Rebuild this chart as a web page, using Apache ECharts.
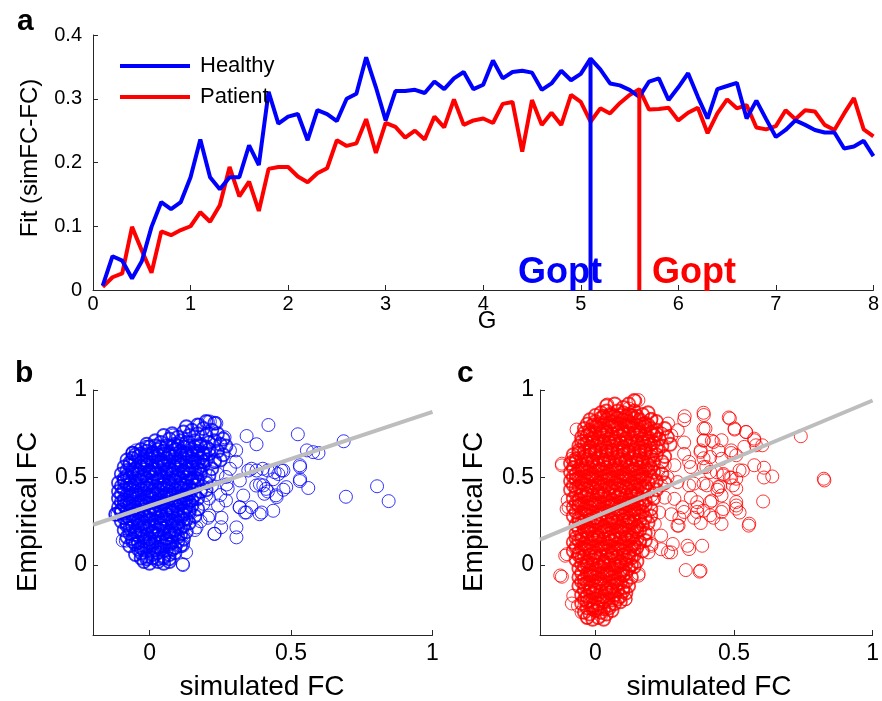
<!DOCTYPE html>
<html>
<head>
<meta charset="utf-8">
<title>Fit vs G and simulated vs empirical FC</title>
<script src="https://cdn.jsdelivr.net/npm/echarts@6.0.0/dist/echarts.min.js"></script>
<style>
  html, body { margin: 0; padding: 0; background: #fff; }
  #chart { width: 882px; height: 701px; }
</style>
</head>
<body>
<div id="chart"></div>
<script>
// coupling strength G
const gValues = [0.1,0.2,0.3,0.4,0.5,0.6,0.7,0.8,0.9,1.0,
  1.1,1.2,1.3,1.4,1.5,1.6,1.7,1.8,1.9,2.0,
  2.1,2.2,2.3,2.4,2.5,2.6,2.7,2.8,2.9,3.0,
  3.1,3.2,3.3,3.4,3.5,3.6,3.7,3.8,3.9,4.0,
  4.1,4.2,4.3,4.4,4.5,4.6,4.7,4.8,4.9,5.0,
  5.1,5.2,5.3,5.4,5.5,5.6,5.7,5.8,5.9,6.0,
  6.1,6.2,6.3,6.4,6.5,6.6,6.7,6.8,6.9,7.0,
  7.1,7.2,7.3,7.4,7.5,7.6,7.7,7.8,7.9,8.0];

// fit (simFC-FC) for each G
const fitHealthy = [0.007,0.053,0.046,0.018,0.045,0.099,0.138,0.127,0.138,0.177,
  0.236,0.177,0.158,0.177,0.177,0.227,0.196,0.311,0.261,0.272,
  0.276,0.235,0.282,0.276,0.265,0.300,0.308,0.365,0.318,0.266,
  0.312,0.312,0.314,0.309,0.327,0.315,0.332,0.342,0.315,0.322,
  0.360,0.332,0.342,0.344,0.341,0.314,0.324,0.344,0.329,0.339,
  0.363,0.346,0.324,0.321,0.314,0.303,0.327,0.332,0.298,0.318,
  0.340,0.303,0.269,0.315,0.320,0.325,0.269,0.297,0.268,0.240,
  0.251,0.266,0.259,0.251,0.247,0.247,0.222,0.225,0.234,0.210];

const fitPatient = [0.005,0.020,0.026,0.099,0.062,0.027,0.092,0.086,0.094,0.100,
  0.122,0.107,0.133,0.193,0.147,0.170,0.124,0.190,0.193,0.193,
  0.178,0.169,0.183,0.191,0.235,0.226,0.230,0.268,0.215,0.262,
  0.256,0.239,0.250,0.236,0.272,0.255,0.299,0.259,0.266,0.269,
  0.262,0.292,0.295,0.217,0.298,0.259,0.278,0.259,0.306,0.295,
  0.264,0.285,0.277,0.293,0.306,0.315,0.283,0.284,0.286,0.266,
  0.278,0.286,0.246,0.277,0.299,0.285,0.290,0.255,0.252,0.257,
  0.282,0.268,0.282,0.280,0.259,0.251,0.277,0.301,0.252,0.241];

// optimal G for each group and the fit there
const goptHealthy = [5.1, 0.363];
const goptPatient = [5.6, 0.315];

// [simulated FC, empirical FC] pairs, healthy: dense centre of the cloud
const fcHealthyCore = [
  [0.13,0.79],[0.17,0.80],[0.2,0.82],[0.23,0.81],[0.15,0.77],[0.19,0.78],[0.22,0.77],
  [0.05,0.74],[0.08,0.75],[0.1,0.73],[0.12,0.76],[0.14,0.74],[0.17,0.75],[0.2,0.74],[0.24,0.75],[0.26,0.72],
  [-0.01,0.69],[0.02,0.71],[0.04,0.7],[0.07,0.72],[0.09,0.69],[0.11,0.71],[0.13,0.7],[0.16,0.71],[0.18,0.69],[0.21,0.7],[0.23,0.71],[0.25,0.69],[0.27,0.68],
  [-0.06,0.64],[-0.03,0.66],[-0.01,0.65],[0.01,0.64],[0.03,0.66],[0.05,0.65],[0.07,0.64],[0.09,0.66],[0.11,0.65],[0.13,0.64],[0.15,0.66],[0.17,0.65],[0.19,0.64],[0.21,0.66],[0.24,0.65],[0.26,0.63],
  [-0.08,0.6],[-0.06,0.61],[-0.04,0.62],[-0.02,0.6],[0.0,0.61],[0.02,0.62],[0.04,0.6],[0.06,0.61],[0.08,0.62],[0.1,0.6],[0.12,0.61],[0.14,0.62],[0.16,0.6],[0.18,0.61],[0.2,0.6],[0.23,0.59],[0.25,0.6],
  [-0.09,0.56],[-0.07,0.57],[-0.05,0.55],[-0.03,0.56],[-0.01,0.57],[0.01,0.55],[0.03,0.56],[0.05,0.57],[0.07,0.55],[0.09,0.56],[0.11,0.57],[0.13,0.55],[0.15,0.56],[0.17,0.55],[0.19,0.57],[0.22,0.55],
  [-0.1,0.52],[-0.08,0.51],[-0.06,0.53],[-0.04,0.52],[-0.02,0.51],[0.0,0.53],[0.02,0.52],[0.04,0.51],[0.06,0.53],[0.08,0.52],[0.1,0.51],[0.12,0.53],[0.14,0.52],[0.16,0.5],[0.18,0.52],[0.21,0.51],
  [-0.11,0.47],[-0.09,0.48],[-0.07,0.46],[-0.05,0.47],[-0.03,0.48],[-0.01,0.46],[0.01,0.47],[0.03,0.48],[0.05,0.46],[0.07,0.47],[0.09,0.48],[0.11,0.46],[0.13,0.47],[0.15,0.48],[0.17,0.46],[0.2,0.47],
  [-0.11,0.42],[-0.09,0.43],[-0.07,0.44],[-0.05,0.42],[-0.03,0.43],[-0.01,0.44],[0.01,0.42],[0.03,0.43],[0.05,0.44],[0.07,0.42],[0.09,0.43],[0.11,0.44],[0.13,0.42],[0.15,0.43],[0.18,0.42],[0.2,0.43],
  [-0.11,0.38],[-0.09,0.37],[-0.07,0.39],[-0.05,0.38],[-0.03,0.37],[-0.01,0.39],[0.01,0.38],[0.03,0.37],[0.05,0.39],[0.07,0.38],[0.09,0.37],[0.11,0.39],[0.13,0.38],[0.15,0.37],[0.17,0.38],
  [-0.11,0.33],[-0.09,0.34],[-0.07,0.35],[-0.05,0.33],[-0.03,0.34],[-0.01,0.35],[0.01,0.33],[0.03,0.34],[0.05,0.35],[0.07,0.33],[0.09,0.34],[0.11,0.35],[0.13,0.33],[0.15,0.34],[0.17,0.32],
  [-0.12,0.29],[-0.1,0.3],[-0.08,0.28],[-0.06,0.29],[-0.04,0.3],[-0.02,0.28],[0.0,0.29],[0.02,0.3],[0.04,0.28],[0.06,0.29],[0.08,0.3],[0.1,0.28],[0.12,0.29],[0.14,0.3],[0.16,0.28],
  [-0.1,0.25],[-0.08,0.24],[-0.06,0.26],[-0.04,0.25],[-0.02,0.24],[0.0,0.26],[0.02,0.25],[0.04,0.24],[0.06,0.26],[0.08,0.25],[0.1,0.24],[0.12,0.26],[0.14,0.24],
  [-0.09,0.2],[-0.07,0.21],[-0.05,0.19],[-0.03,0.2],[-0.01,0.21],[0.01,0.19],[0.03,0.2],[0.05,0.21],[0.07,0.19],[0.09,0.2],[0.11,0.21],[0.13,0.19],
  [-0.08,0.16],[-0.06,0.15],[-0.04,0.17],[-0.02,0.16],[0.0,0.15],[0.02,0.17],[0.04,0.16],[0.06,0.15],[0.08,0.17],[0.1,0.16],[0.12,0.15],
  [-0.07,0.11],[-0.05,0.12],[-0.03,0.1],[-0.01,0.11],[0.01,0.12],[0.03,0.1],[0.05,0.11],[0.07,0.12],[0.09,0.1],[0.11,0.11],
  [-0.05,0.06],[-0.03,0.07],[-0.01,0.05],[0.01,0.06],[0.03,0.07],[0.05,0.05],[0.07,0.06],[0.09,0.07],
  [-0.02,0.02],[0.0,0.01],[0.03,0.02],[0.05,0.01],[0.07,0.02],
  [0.0,0.675],[0.02,0.68],[0.04,0.675],[0.06,0.68],[0.08,0.675],[0.1,0.68],[0.12,0.675],[0.14,0.68],[0.16,0.675],[0.18,0.68],[0.2,0.675],
  [-0.05,0.63],[-0.03,0.635],[-0.01,0.63],[0.01,0.635],[0.03,0.63],[0.05,0.635],[0.07,0.63],[0.09,0.635],[0.11,0.63],[0.13,0.635],[0.15,0.63],[0.17,0.635],[0.19,0.63],[0.21,0.635],
  [-0.07,0.585],[-0.05,0.59],[-0.03,0.585],[-0.01,0.59],[0.01,0.585],[0.03,0.59],[0.05,0.585],[0.07,0.59],[0.09,0.585],[0.11,0.59],[0.13,0.585],[0.15,0.59],[0.17,0.585],[0.19,0.59],
  [-0.08,0.54],[-0.06,0.545],[-0.04,0.54],[-0.02,0.545],[0.0,0.54],[0.02,0.545],[0.04,0.54],[0.06,0.545],[0.08,0.54],[0.1,0.545],[0.12,0.54],[0.14,0.545],[0.16,0.54],[0.18,0.545],
  [-0.09,0.495],[-0.07,0.5],[-0.05,0.495],[-0.03,0.5],[-0.01,0.495],[0.01,0.5],[0.03,0.495],[0.05,0.5],[0.07,0.495],[0.09,0.5],[0.11,0.495],[0.13,0.5],[0.15,0.495],[0.17,0.49],
  [-0.1,0.45],[-0.08,0.455],[-0.06,0.45],[-0.04,0.455],[-0.02,0.45],[0.0,0.455],[0.02,0.45],[0.04,0.455],[0.06,0.45],[0.08,0.455],[0.1,0.45],[0.12,0.455],[0.14,0.45],[0.16,0.455],
  [-0.1,0.405],[-0.08,0.4],[-0.06,0.405],[-0.04,0.4],[-0.02,0.405],[0.0,0.4],[0.02,0.405],[0.04,0.4],[0.06,0.405],[0.08,0.4],[0.1,0.405],[0.12,0.4],[0.14,0.405],[0.16,0.4],
  [-0.1,0.36],[-0.08,0.355],[-0.06,0.36],[-0.04,0.355],[-0.02,0.36],[0.0,0.355],[0.02,0.36],[0.04,0.355],[0.06,0.36],[0.08,0.355],[0.1,0.36],[0.12,0.355],[0.14,0.36],
  [-0.1,0.315],[-0.08,0.31],[-0.06,0.315],[-0.04,0.31],[-0.02,0.315],[0.0,0.31],[0.02,0.315],[0.04,0.31],[0.06,0.315],[0.08,0.31],[0.1,0.315],[0.12,0.31],[0.14,0.315],
  [-0.09,0.27],[-0.07,0.265],[-0.05,0.27],[-0.03,0.265],[-0.01,0.27],[0.01,0.265],[0.03,0.27],[0.05,0.265],[0.07,0.27],[0.09,0.265],[0.11,0.27],[0.13,0.265],
  [-0.08,0.225],[-0.06,0.22],[-0.04,0.225],[-0.02,0.22],[0.0,0.225],[0.02,0.22],[0.04,0.225],[0.06,0.22],[0.08,0.225],[0.1,0.22],[0.12,0.225],
  [-0.07,0.18],[-0.05,0.175],[-0.03,0.18],[-0.01,0.175],[0.01,0.18],[0.03,0.175],[0.05,0.18],[0.07,0.175],[0.09,0.18],[0.11,0.175],
  [-0.06,0.135],[-0.04,0.13],[-0.02,0.135],[0.0,0.13],[0.02,0.135],[0.04,0.13],[0.06,0.135],[0.08,0.13],[0.1,0.135],
  [-0.04,0.09],[-0.02,0.085],[0.0,0.09],[0.02,0.085],[0.04,0.09],[0.06,0.085],[0.08,0.09],
  [-0.03,0.04],[-0.01,0.035],[0.01,0.04],[0.03,0.035],[0.05,0.04],[0.07,0.035]
];

// healthy: sparser points round the edge and outliers
const fcHealthyOuter = [
  [0.42,0.80],[0.343,0.737],[0.378,0.69],[0.524,0.747],[0.686,0.707],[0.556,0.655],[0.597,0.64],[0.578,0.645],
  [0.531,0.57],[0.532,0.56],[0.804,0.45],[0.694,0.39],[0.845,0.365],[0.561,0.44],[0.532,0.49],[0.531,0.48],
  [0.473,0.54],[0.455,0.52],[0.437,0.49],[0.418,0.54],[0.402,0.455],[0.418,0.42],[0.449,0.388],[0.473,0.43],
  [0.39,0.46],[0.349,0.54],[0.378,0.54],[0.319,0.483],[0.331,0.397],[0.36,0.33],[0.319,0.33],[0.337,0.30],
  [0.396,0.30],[0.437,0.31],[0.307,0.215],[0.307,0.158],[0.242,0.34],[0.254,0.27],[0.23,0.178],[0.284,0.655],
  [0.284,0.55],[0.272,0.46],[0.206,0.27],[0.166,0.215],[0.118,0.12],[0.118,0.0],[0.129,0.072],[-0.095,0.14],
  [-0.118,0.29],[-0.059,0.64],[-0.089,0.48],[0.213,0.82],[0.177,0.80],[0.236,0.81],[0.083,0.74],[-0.012,0.675],
  [0.36,0.55],[0.40,0.55],[0.442,0.53],[0.466,0.54],[0.377,0.454],[0.412,0.435],[0.406,0.407],[0.447,0.398],
  [0.483,0.445],[0.318,0.33],[0.342,0.30],[0.389,0.29],[0.229,0.178],[0.253,0.216],[0.212,0.283],[0.27,0.369],
  [0.276,0.436],[0.27,0.503],[0.306,0.59],[0.306,0.655],[0.265,0.73],[0.206,0.818],[0.117,0.005],[0.117,0.11],
  [-0.084,0.139],[-0.113,0.29],[-0.06,0.636],[-0.048,0.655],[-0.007,0.675],[0.2,0.4],[0.19,0.35],[0.22,0.45],
  [0.23,0.6],[0.24,0.52],[0.21,0.38],[0.18,0.25],[0.16,0.2],[0.25,0.4]
];

// [simulated FC, empirical FC] pairs, patients: dense centre of the cloud
const fcPatientCore = [
  [0.04,0.91],[0.07,0.92],[0.1,0.9],[0.14,0.94],[0.12,0.92],
  [0.02,0.87],[0.04,0.88],[0.06,0.86],[0.08,0.88],[0.1,0.87],[0.12,0.86],[0.14,0.88],[0.17,0.86],[0.19,0.87],
  [-0.02,0.83],[0.0,0.82],[0.02,0.84],[0.04,0.83],[0.06,0.82],[0.08,0.84],[0.1,0.83],[0.12,0.82],[0.14,0.84],[0.16,0.83],[0.18,0.81],[0.2,0.83],[0.22,0.82],
  [-0.04,0.78],[-0.02,0.77],[0.0,0.79],[0.02,0.78],[0.04,0.77],[0.06,0.79],[0.08,0.78],[0.1,0.77],[0.12,0.79],[0.14,0.78],[0.16,0.77],[0.18,0.79],[0.2,0.78],[0.22,0.77],[0.25,0.78],
  [-0.05,0.73],[-0.03,0.74],[-0.01,0.72],[0.01,0.73],[0.03,0.74],[0.05,0.72],[0.07,0.73],[0.09,0.74],[0.11,0.72],[0.13,0.73],[0.15,0.74],[0.17,0.72],[0.19,0.73],[0.21,0.74],[0.23,0.72],[0.26,0.73],
  [-0.06,0.68],[-0.04,0.69],[-0.02,0.67],[0.0,0.68],[0.02,0.69],[0.04,0.67],[0.06,0.68],[0.08,0.69],[0.1,0.67],[0.12,0.68],[0.14,0.69],[0.16,0.67],[0.18,0.68],[0.2,0.69],[0.22,0.67],[0.24,0.68],[0.27,0.69],
  [-0.08,0.63],[-0.06,0.64],[-0.04,0.62],[-0.02,0.63],[0.0,0.64],[0.02,0.62],[0.04,0.63],[0.06,0.64],[0.08,0.62],[0.1,0.63],[0.12,0.64],[0.14,0.62],[0.16,0.63],[0.18,0.64],[0.2,0.62],[0.22,0.63],[0.25,0.62],
  [-0.09,0.58],[-0.07,0.59],[-0.05,0.57],[-0.03,0.58],[-0.01,0.59],[0.01,0.57],[0.03,0.58],[0.05,0.59],[0.07,0.57],[0.09,0.58],[0.11,0.59],[0.13,0.57],[0.15,0.58],[0.17,0.59],[0.19,0.57],[0.21,0.58],[0.24,0.59],
  [-0.09,0.53],[-0.07,0.52],[-0.05,0.54],[-0.03,0.53],[-0.01,0.52],[0.01,0.54],[0.03,0.53],[0.05,0.52],[0.07,0.54],[0.09,0.53],[0.11,0.52],[0.13,0.54],[0.15,0.53],[0.17,0.52],[0.19,0.54],[0.21,0.53],[0.24,0.52],
  [-0.09,0.48],[-0.07,0.49],[-0.05,0.47],[-0.03,0.48],[-0.01,0.49],[0.01,0.47],[0.03,0.48],[0.05,0.49],[0.07,0.47],[0.09,0.48],[0.11,0.49],[0.13,0.47],[0.15,0.48],[0.17,0.49],[0.19,0.47],[0.22,0.48],[0.25,0.47],
  [-0.09,0.43],[-0.07,0.44],[-0.05,0.42],[-0.03,0.43],[-0.01,0.44],[0.01,0.42],[0.03,0.43],[0.05,0.44],[0.07,0.42],[0.09,0.43],[0.11,0.44],[0.13,0.42],[0.15,0.43],[0.17,0.44],[0.19,0.42],[0.22,0.43],
  [-0.08,0.38],[-0.06,0.37],[-0.04,0.39],[-0.02,0.38],[0.0,0.37],[0.02,0.39],[0.04,0.38],[0.06,0.37],[0.08,0.39],[0.1,0.38],[0.12,0.37],[0.14,0.39],[0.16,0.38],[0.18,0.37],[0.21,0.38],
  [-0.08,0.33],[-0.06,0.34],[-0.04,0.32],[-0.02,0.33],[0.0,0.34],[0.02,0.32],[0.04,0.33],[0.06,0.34],[0.08,0.32],[0.1,0.33],[0.12,0.34],[0.14,0.32],[0.16,0.33],[0.18,0.34],[0.2,0.32],
  [-0.08,0.28],[-0.06,0.27],[-0.04,0.29],[-0.02,0.28],[0.0,0.27],[0.02,0.29],[0.04,0.28],[0.06,0.27],[0.08,0.29],[0.1,0.28],[0.12,0.27],[0.14,0.29],[0.16,0.28],[0.18,0.27],[0.2,0.28],
  [-0.07,0.23],[-0.05,0.24],[-0.03,0.22],[-0.01,0.23],[0.01,0.24],[0.03,0.22],[0.05,0.23],[0.07,0.24],[0.09,0.22],[0.11,0.23],[0.13,0.24],[0.15,0.22],[0.17,0.23],[0.19,0.24],
  [-0.07,0.18],[-0.05,0.17],[-0.03,0.19],[-0.01,0.18],[0.01,0.17],[0.03,0.19],[0.05,0.18],[0.07,0.17],[0.09,0.19],[0.11,0.18],[0.13,0.17],[0.15,0.19],[0.18,0.18],
  [-0.08,0.13],[-0.06,0.14],[-0.04,0.12],[-0.02,0.13],[0.0,0.14],[0.02,0.12],[0.04,0.13],[0.06,0.14],[0.08,0.12],[0.1,0.13],[0.12,0.14],[0.14,0.12],[0.16,0.13],[0.18,0.14],
  [-0.08,0.08],[-0.06,0.07],[-0.04,0.09],[-0.02,0.08],[0.0,0.07],[0.02,0.09],[0.04,0.08],[0.06,0.07],[0.08,0.09],[0.1,0.08],[0.12,0.07],[0.14,0.09],[0.17,0.08],
  [-0.07,0.03],[-0.05,0.04],[-0.03,0.02],[-0.01,0.03],[0.01,0.04],[0.03,0.02],[0.05,0.03],[0.07,0.04],[0.09,0.02],[0.11,0.03],[0.13,0.04],[0.15,0.02],
  [-0.06,-0.02],[-0.04,-0.01],[-0.02,-0.03],[0.0,-0.02],[0.02,-0.01],[0.04,-0.03],[0.06,-0.02],[0.08,-0.01],[0.1,-0.03],[0.12,-0.02],[0.14,-0.01],
  [-0.06,-0.07],[-0.04,-0.08],[-0.02,-0.06],[0.0,-0.07],[0.02,-0.08],[0.04,-0.06],[0.06,-0.07],[0.08,-0.08],[0.1,-0.06],[0.13,-0.07],
  [-0.06,-0.12],[-0.04,-0.11],[-0.02,-0.13],[0.0,-0.12],[0.02,-0.11],[0.04,-0.13],[0.06,-0.12],[0.08,-0.11],[0.1,-0.13],[0.12,-0.12],
  [-0.05,-0.17],[-0.03,-0.18],[-0.01,-0.16],[0.01,-0.17],[0.03,-0.18],[0.05,-0.16],[0.07,-0.17],[0.09,-0.18],[0.11,-0.16],
  [-0.05,-0.22],[-0.03,-0.21],[-0.01,-0.23],[0.01,-0.22],[0.03,-0.21],[0.05,-0.23],[0.07,-0.22],[0.09,-0.21],
  [-0.04,-0.27],[-0.02,-0.28],[0.0,-0.26],[0.02,-0.27],[0.04,-0.28],[0.06,-0.26],
  [-0.03,-0.3],[-0.01,-0.31],[0.01,-0.3],[0.03,-0.31],
  [0.0,0.855],[0.03,0.85],[0.05,0.855],[0.07,0.85],[0.09,0.855],[0.11,0.85],[0.13,0.855],[0.15,0.85],
  [-0.03,0.805],[-0.01,0.8],[0.01,0.805],[0.03,0.8],[0.05,0.805],[0.07,0.8],[0.09,0.805],[0.11,0.8],[0.13,0.805],[0.15,0.8],[0.17,0.805],[0.19,0.8],
  [-0.04,0.755],[-0.02,0.75],[0.0,0.755],[0.02,0.75],[0.04,0.755],[0.06,0.75],[0.08,0.755],[0.1,0.75],[0.12,0.755],[0.14,0.75],[0.16,0.755],[0.18,0.75],[0.2,0.755],[0.22,0.75],
  [-0.05,0.705],[-0.03,0.7],[-0.01,0.705],[0.01,0.7],[0.03,0.705],[0.05,0.7],[0.07,0.705],[0.09,0.7],[0.11,0.705],[0.13,0.7],[0.15,0.705],[0.17,0.7],[0.19,0.705],[0.21,0.7],
  [-0.06,0.655],[-0.04,0.65],[-0.02,0.655],[0.0,0.65],[0.02,0.655],[0.04,0.65],[0.06,0.655],[0.08,0.65],[0.1,0.655],[0.12,0.65],[0.14,0.655],[0.16,0.65],[0.18,0.655],[0.2,0.65],
  [-0.07,0.605],[-0.05,0.6],[-0.03,0.605],[-0.01,0.6],[0.01,0.605],[0.03,0.6],[0.05,0.605],[0.07,0.6],[0.09,0.605],[0.11,0.6],[0.13,0.605],[0.15,0.6],[0.17,0.605],[0.19,0.6],
  [-0.08,0.555],[-0.06,0.55],[-0.04,0.555],[-0.02,0.55],[0.0,0.555],[0.02,0.55],[0.04,0.555],[0.06,0.55],[0.08,0.555],[0.1,0.55],[0.12,0.555],[0.14,0.55],[0.16,0.555],[0.18,0.55],[0.2,0.555],
  [-0.08,0.505],[-0.06,0.5],[-0.04,0.505],[-0.02,0.5],[0.0,0.505],[0.02,0.5],[0.04,0.505],[0.06,0.5],[0.08,0.505],[0.1,0.5],[0.12,0.505],[0.14,0.5],[0.16,0.505],[0.18,0.5],[0.2,0.505],
  [-0.08,0.455],[-0.06,0.45],[-0.04,0.455],[-0.02,0.45],[0.0,0.455],[0.02,0.45],[0.04,0.455],[0.06,0.45],[0.08,0.455],[0.1,0.45],[0.12,0.455],[0.14,0.45],[0.16,0.455],[0.18,0.45],
  [-0.07,0.405],[-0.05,0.4],[-0.03,0.405],[-0.01,0.4],[0.01,0.405],[0.03,0.4],[0.05,0.405],[0.07,0.4],[0.09,0.405],[0.11,0.4],[0.13,0.405],[0.15,0.4],[0.17,0.405],
  [-0.07,0.355],[-0.05,0.35],[-0.03,0.355],[-0.01,0.35],[0.01,0.355],[0.03,0.35],[0.05,0.355],[0.07,0.35],[0.09,0.355],[0.11,0.35],[0.13,0.355],[0.15,0.35],[0.17,0.355],
  [-0.07,0.305],[-0.05,0.3],[-0.03,0.305],[-0.01,0.3],[0.01,0.305],[0.03,0.3],[0.05,0.305],[0.07,0.3],[0.09,0.305],[0.11,0.3],[0.13,0.305],[0.15,0.3],[0.17,0.305],
  [-0.06,0.255],[-0.04,0.25],[-0.02,0.255],[0.0,0.25],[0.02,0.255],[0.04,0.25],[0.06,0.255],[0.08,0.25],[0.1,0.255],[0.12,0.25],[0.14,0.255],[0.16,0.25],
  [-0.06,0.205],[-0.04,0.2],[-0.02,0.205],[0.0,0.2],[0.02,0.205],[0.04,0.2],[0.06,0.205],[0.08,0.2],[0.1,0.205],[0.12,0.2],[0.14,0.205],[0.16,0.2],
  [-0.07,0.155],[-0.05,0.15],[-0.03,0.155],[-0.01,0.15],[0.01,0.155],[0.03,0.15],[0.05,0.155],[0.07,0.15],[0.09,0.155],[0.11,0.15],[0.13,0.155],[0.15,0.15],
  [-0.07,0.105],[-0.05,0.1],[-0.03,0.105],[-0.01,0.1],[0.01,0.105],[0.03,0.1],[0.05,0.105],[0.07,0.1],[0.09,0.105],[0.11,0.1],[0.13,0.105],[0.15,0.1],
  [-0.06,0.055],[-0.04,0.05],[-0.02,0.055],[0.0,0.05],[0.02,0.055],[0.04,0.05],[0.06,0.055],[0.08,0.05],[0.1,0.055],[0.12,0.05],[0.14,0.055],
  [-0.05,0.005],[-0.03,0.0],[-0.01,0.005],[0.01,0.0],[0.03,0.005],[0.05,0.0],[0.07,0.005],[0.09,0.0],[0.11,0.005],[0.13,0.0],
  [-0.05,-0.045],[-0.03,-0.05],[-0.01,-0.045],[0.01,-0.05],[0.03,-0.045],[0.05,-0.05],[0.07,-0.045],[0.09,-0.05],[0.11,-0.045],
  [-0.05,-0.095],[-0.03,-0.1],[-0.01,-0.095],[0.01,-0.1],[0.03,-0.095],[0.05,-0.1],[0.07,-0.095],[0.09,-0.1],[0.11,-0.095],
  [-0.04,-0.145],[-0.02,-0.15],[0.0,-0.145],[0.02,-0.15],[0.04,-0.145],[0.06,-0.15],[0.08,-0.145],[0.1,-0.15],
  [-0.04,-0.195],[-0.02,-0.2],[0.0,-0.195],[0.02,-0.2],[0.04,-0.195],[0.06,-0.2],[0.08,-0.195],
  [-0.03,-0.245],[-0.01,-0.25],[0.01,-0.245],[0.03,-0.25],[0.05,-0.245]
];

// patients: sparser points round the edge and outliers
const fcPatientOuter = [
  [0.144,0.937],[0.322,0.85],[0.39,0.87],[0.481,0.843],[0.502,0.774],[0.544,0.76],[0.573,0.722],[0.579,0.684],
  [0.741,0.736],[0.826,0.483],[0.824,0.493],[0.608,0.556],[0.638,0.506],[0.608,0.50],[0.605,0.363],[0.553,0.225],
  [0.52,0.541],[0.49,0.499],[0.508,0.436],[0.508,0.34],[0.52,0.30],[0.455,0.397],[0.455,0.235],[0.45,0.45],
  [0.44,0.43],[0.462,0.52],[0.444,0.655],[0.49,0.64],[0.42,0.71],[0.39,0.78],[0.39,0.71],[0.38,0.655],
  [0.39,0.61],[0.40,0.56],[0.39,0.465],[0.414,0.36],[0.368,0.33],[0.39,0.31],[0.356,0.27],[0.38,0.24],
  [0.426,0.27],[0.344,0.385],[0.314,0.33],[0.303,0.27],[0.30,0.225],[0.274,0.29],[0.279,0.12],[0.262,0.073],
  [0.332,0.11],[0.385,0.11],[0.326,-0.029],[0.376,-0.038],[0.338,0.455],[0.344,0.56],[0.32,0.635],[0.32,0.70],
  [0.274,0.74],[0.262,0.808],[0.202,0.835],[0.297,0.77],[0.227,0.54],[0.25,0.385],[0.214,0.235],[0.202,0.12],
  [0.156,-0.05],[0.109,-0.195],[-0.068,0.774],[-0.121,0.569],[-0.086,0.607],[-0.121,-0.067],[-0.103,0.062],[-0.097,0.33],
  [-0.10,0.37],[-0.085,-0.22],[-0.05,-0.27],[-0.028,-0.30],[0.02,-0.29],[-0.121,0.579],[-0.08,0.598],[-0.104,0.32],
  [-0.109,0.053],[-0.127,-0.06],[-0.08,-0.176],[-0.063,-0.233],[0.108,-0.195],[0.155,-0.061],[0.191,0.072],[0.237,0.09],
  [0.273,0.072],[0.379,-0.032],[0.338,0.091],[0.296,0.225],[0.32,0.303],[0.367,0.303],[0.414,0.284],[0.455,0.303],
  [0.508,0.322],[0.555,0.236],[0.285,0.378],[0.367,0.359],[0.42,0.368],[0.461,0.32],[0.296,0.474],[0.355,0.465],
  [0.402,0.455],[0.443,0.445],[0.496,0.455],[0.508,0.36],[0.414,0.531],[0.461,0.512],[0.508,0.493],[0.285,0.57],
  [0.338,0.589],[0.391,0.56],[0.438,0.53],[0.485,0.5],[0.532,0.54],[0.573,0.57],[0.379,0.646],[0.414,0.617],
  [0.455,0.607],[0.508,0.627],[0.391,0.713],[0.426,0.703],[0.49,0.655],[0.537,0.675],[0.573,0.713],[0.602,0.684],
  [0.397,0.78],[0.455,0.713],[0.485,0.837],[0.502,0.78],[0.543,0.76],[0.32,0.828],[0.391,0.857],[0.226,0.655],
  [0.25,0.57],[0.237,0.455],[0.202,0.397],[0.191,0.187],[0.237,0.168],[0.202,0.11],[0.155,0.942],[0.12,0.894],
  [0.043,0.917],[0.055,0.866],[0.014,0.76],[-0.01,0.74],[0.23,0.3],[0.26,0.5],[0.21,0.6],[0.24,0.75]
];

// least-squares lines drawn in grey, [x, y] at both ends of the axis
const trendHealthy = [[-0.2, 0.23], [1.0, 0.875]];
const trendPatient = [[-0.2, 0.145], [1.0, 0.94]];

const fontFamily = '"Liberation Sans", Arial, Helvetica, sans-serif';
const axisColor = '#262626';

function baseAxis(extra) {
  return Object.assign({
    type: 'value',
    splitLine: { show: false },
    axisLine: { show: true, onZero: false, lineStyle: { color: axisColor, width: 1 } },
    axisTick: { show: true, inside: true, length: 5, lineStyle: { color: axisColor } },
  }, extra);
}

function scatterAxes(gridIndex) {
  return {
    x: baseAxis({
      gridIndex: gridIndex, min: -0.2, max: 1,
      axisTick: { show: true, inside: true, length: 5, lineStyle: { color: axisColor }, customValues: [0, 0.5, 1] },
      axisLabel: { customValues: [0, 0.5, 1], fontSize: 23, color: '#000', fontFamily: fontFamily, margin: 7 }
    }),
    y: baseAxis({
      gridIndex: gridIndex, min: -0.4, max: 1,
      axisTick: { show: true, inside: true, length: 5, lineStyle: { color: axisColor }, customValues: [0, 0.5, 1] },
      axisLabel: { customValues: [0, 0.5, 1], fontSize: 23, color: '#000', fontFamily: fontFamily, margin: 6 }
    })
  };
}

function circles(name, data, axisIndex, color, width) {
  return {
    name: name, type: 'scatter', xAxisIndex: axisIndex, yAxisIndex: axisIndex,
    data: data, symbol: 'circle', symbolSize: 13, large: false,
    itemStyle: { color: 'rgba(0,0,0,0)', borderColor: color, borderWidth: width }, z: 2
  };
}

const axB = scatterAxes(1);
const axC = scatterAxes(2);

const myChart = echarts.init(document.getElementById('chart'));

myChart.setOption({
  animation: false,
  backgroundColor: '#fff',
  textStyle: { fontFamily: fontFamily },
  grid: [
    { left: 93, top: 35, width: 787, height: 255 },
    { left: 93, top: 390, width: 339.5, height: 245 },
    { left: 540, top: 390, width: 339.5, height: 245 }
  ],
  legend: {
    data: ['Healthy', 'Patient'],
    orient: 'vertical',
    left: 120,
    top: 55,
    padding: 0,
    icon: 'rect',
    itemWidth: 70,
    itemHeight: 4,
    itemGap: 9,
    selectedMode: false,
    textStyle: { fontSize: 22, color: '#000', fontFamily: fontFamily, padding: [0, 0, 0, 5] }
  },
  xAxis: [
    baseAxis({
      gridIndex: 0, min: 0, max: 8, interval: 1,
      axisLabel: { fontSize: 20, color: '#000', fontFamily: fontFamily, margin: 4 }
    }),
    axB.x,
    axC.x
  ],
  yAxis: [
    baseAxis({
      gridIndex: 0, min: 0, max: 0.4, interval: 0.1,
      axisLabel: { fontSize: 20, color: '#000', fontFamily: fontFamily, margin: 11 }
    }),
    axB.y,
    axC.y
  ],
  series: [
    {
      name: 'Healthy', type: 'line', xAxisIndex: 0, yAxisIndex: 0,
      data: gValues.map((g, i) => [g, fitHealthy[i]]),
      symbol: 'none', color: '#0000ff',
      lineStyle: { width: 4, color: '#0000ff' }, z: 3
    },
    {
      name: 'Patient', type: 'line', xAxisIndex: 0, yAxisIndex: 0,
      data: gValues.map((g, i) => [g, fitPatient[i]]),
      symbol: 'none', color: '#ff0000',
      lineStyle: { width: 4, color: '#ff0000' }, z: 2
    },
    {
      name: 'Gopt healthy', type: 'line', xAxisIndex: 0, yAxisIndex: 0,
      data: [[goptHealthy[0], 0], goptHealthy],
      symbol: 'none', color: '#0000ff',
      lineStyle: { width: 4, color: '#0000ff' }, z: 4
    },
    {
      name: 'Gopt patient', type: 'line', xAxisIndex: 0, yAxisIndex: 0,
      data: [[goptPatient[0], 0], goptPatient],
      symbol: 'none', color: '#ff0000',
      lineStyle: { width: 4, color: '#ff0000' }, z: 4
    },
    circles('FC healthy core', fcHealthyCore, 1, '#0000ff', 1.8),
    circles('FC healthy', fcHealthyOuter, 1, '#0000ff', 1),
    {
      name: 'trend healthy', type: 'line', xAxisIndex: 1, yAxisIndex: 1,
      data: trendHealthy, symbol: 'none',
      lineStyle: { width: 4, color: '#bdbdbd' }, z: 3
    },
    circles('FC patient core', fcPatientCore, 2, '#ff0000', 1.8),
    circles('FC patient', fcPatientOuter, 2, '#ff0000', 1),
    {
      name: 'trend patient', type: 'line', xAxisIndex: 2, yAxisIndex: 2,
      data: trendPatient, symbol: 'none',
      lineStyle: { width: 4, color: '#bdbdbd' }, z: 3
    }
  ],
  graphic: [
    // panel letters
    { type: 'text', x: 17, y: 22, style: { text: 'a', font: 'bold 30px ' + fontFamily, fill: '#000', align: 'left', verticalAlign: 'middle' } },
    { type: 'text', x: 15, y: 374, style: { text: 'b', font: 'bold 30px ' + fontFamily, fill: '#000', align: 'left', verticalAlign: 'middle' } },
    { type: 'text', x: 457, y: 374, style: { text: 'c', font: 'bold 30px ' + fontFamily, fill: '#000', align: 'left', verticalAlign: 'middle' } },
    // axis titles
    { type: 'text', x: 30, y: 158, rotation: Math.PI / 2, style: { text: 'Fit (simFC-FC)', font: '24px ' + fontFamily, fill: '#000', align: 'center', verticalAlign: 'middle' } },
    { type: 'text', x: 487, y: 321, style: { text: 'G', font: '24px ' + fontFamily, fill: '#000', align: 'center', verticalAlign: 'middle' } },
    { type: 'text', x: 28, y: 512, rotation: Math.PI / 2, style: { text: 'Empirical FC', font: '28px ' + fontFamily, fill: '#000', align: 'center', verticalAlign: 'middle' } },
    { type: 'text', x: 474, y: 512, rotation: Math.PI / 2, style: { text: 'Empirical FC', font: '28px ' + fontFamily, fill: '#000', align: 'center', verticalAlign: 'middle' } },
    { type: 'text', x: 262, y: 687, style: { text: 'simulated FC', font: '28px ' + fontFamily, fill: '#000', align: 'center', verticalAlign: 'middle' } },
    { type: 'text', x: 709, y: 687, style: { text: 'simulated FC', font: '28px ' + fontFamily, fill: '#000', align: 'center', verticalAlign: 'middle' } },
    // Gopt annotations
    { type: 'text', x: 518, y: 273, z: 10, style: { text: 'Gopt', font: 'bold 36px ' + fontFamily, fill: '#0000ff', align: 'left', verticalAlign: 'middle' } },
    { type: 'text', x: 652, y: 273, z: 10, style: { text: 'Gopt', font: 'bold 36px ' + fontFamily, fill: '#ff0000', align: 'left', verticalAlign: 'middle' } }
  ]
});
</script>
</body>
</html>
